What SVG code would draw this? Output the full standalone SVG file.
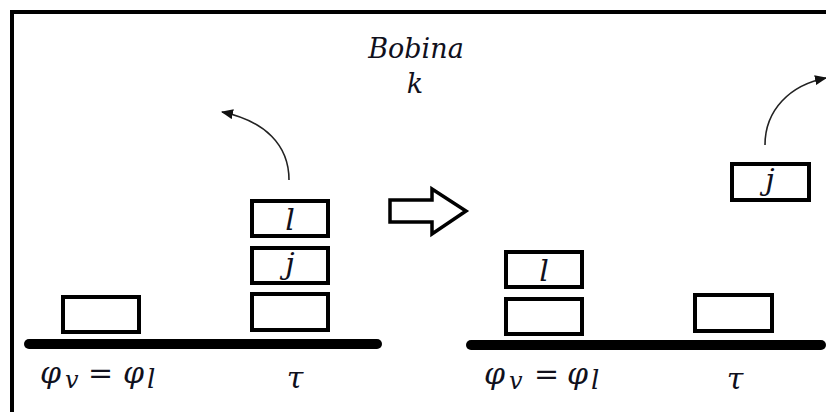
<svg xmlns="http://www.w3.org/2000/svg" width="826" height="412" viewBox="0 0 826 412">
  <defs>
    <marker id="ah" viewBox="0 0 12 10" refX="11" refY="5" markerWidth="12" markerHeight="10" markerUnits="userSpaceOnUse" orient="auto">
      <path d="M0,0 L12,5 L0,10 Z" fill="#111"/>
    </marker>
    <style>
      .box { fill: #fff; stroke: #000; stroke-width: 4; }
      .floor { stroke: #000; stroke-width: 10; stroke-linecap: round; fill: none; }
      .frame { stroke: #000; stroke-width: 4; fill: none; }
      .curve { stroke: #222; stroke-width: 1.6; fill: none; marker-end: url(#ah); }
      .m { font-family: "DejaVu Serif", "Liberation Serif", serif; font-style: italic; fill: #10101c; }
      .lbl { font-size: 30px; text-anchor: middle; }
    </style>
  </defs>
  <rect x="0" y="0" width="826" height="412" fill="#fff"/>

  <g id="frame">
    <line class="frame" x1="10" y1="12" x2="826" y2="12"/>
    <line class="frame" x1="12" y1="10" x2="12" y2="412"/>
  </g>

  <g id="title">
    <text class="m" x="416" y="58" font-size="27" text-anchor="middle">Bobina</text>
    <text class="m" x="415" y="93" font-size="27" text-anchor="middle">k</text>
  </g>

  <g id="floor-left"><line class="floor" x1="29" y1="344" x2="377" y2="344"/></g>
  <g id="floor-right"><line class="floor" x1="471" y1="345" x2="821" y2="345"/></g>

  <g id="left-vl-box"><rect class="box" x="63" y="297" width="76" height="35"/></g>
  <g id="left-tau-bottom"><rect class="box" x="252" y="294" width="76" height="36"/></g>
  <g id="left-tau-j">
    <rect class="box" x="252" y="248" width="76" height="35"/>
    <text class="m lbl" x="290" y="274">j</text>
  </g>
  <g id="left-tau-l">
    <rect class="box" x="252" y="201" width="76" height="35"/>
    <text class="m lbl" x="290" y="230">l</text>
  </g>

  <g id="right-vl-bottom"><rect class="box" x="506" y="299" width="76" height="35"/></g>
  <g id="right-vl-l">
    <rect class="box" x="506" y="252" width="76" height="35"/>
    <text class="m lbl" x="544" y="281">l</text>
  </g>
  <g id="right-tau-box"><rect class="box" x="695" y="295" width="77" height="36"/></g>
  <g id="right-j">
    <rect class="box" x="732" y="164" width="77" height="36"/>
    <text class="m lbl" x="770" y="190">j</text>
  </g>

  <g id="transition-arrow">
    <polygon points="390,200 432,200 432,189 466,211 432,234 432,222 390,222" fill="#fff" stroke="#000" stroke-width="3.5" stroke-linejoin="miter"/>
  </g>

  <g id="connectors">
    <path class="curve" d="M289,180 C289,145 265,121 222,112"/>
    <path class="curve" d="M765,145 C765,110 790,85 826,78"/>
  </g>

  <g id="labels-left">
    <text class="m" font-size="30" y="383"><tspan x="40">φ</tspan><tspan x="65" y="388" font-size="24">v</tspan><tspan x="88" y="383">=</tspan><tspan x="123" y="383">φ</tspan><tspan x="147" y="388" font-size="26">l</tspan></text>
    <text class="m" font-size="30" x="295" y="388" text-anchor="middle">τ</text>
  </g>
  <g id="labels-right">
    <text class="m" font-size="30" y="384"><tspan x="484">φ</tspan><tspan x="509" y="389" font-size="24">v</tspan><tspan x="534" y="384">=</tspan><tspan x="567" y="384">φ</tspan><tspan x="591" y="389" font-size="26">l</tspan></text>
    <text class="m" font-size="30" x="735" y="389" text-anchor="middle">τ</text>
  </g>
</svg>
